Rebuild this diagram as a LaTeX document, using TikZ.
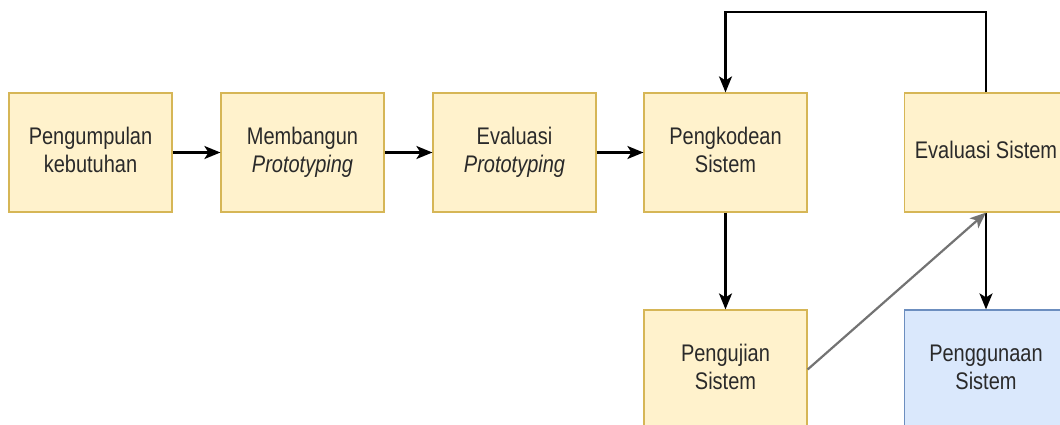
\documentclass[tikz,border=0pt]{standalone}
\usepackage{fontspec}
\setmainfont{Liberation Sans}
\usetikzlibrary{arrows.meta,calc}
\definecolor{yfill}{HTML}{FFF2CC}
\definecolor{ydraw}{HTML}{D6B656}
\definecolor{bfill}{HTML}{DAE8FC}
\definecolor{bdraw}{HTML}{6C8EBF}
\definecolor{txt}{HTML}{2A2A2A}
\newcommand{\lbl}[1]{\scalebox{1}[1.2]{\fontsize{20}{23.5}\selectfont\begin{tabular}{@{}c@{}}#1\end{tabular}}}
\tikzset{
  box/.style={draw=ydraw, fill=yfill, line width=1.2pt, minimum width=163pt, minimum height=119pt, inner sep=0pt, text=txt, align=center},
  bluebox/.style={box, draw=bdraw, fill=bfill},
  arr/.style={draw=black, line width=2.2pt, -{Stealth[length=16pt,width=13pt,inset=4pt]}},
  grayarr/.style={arr, draw=black!55}
}
\begin{document}
\begin{tikzpicture}[x=1pt,y=-1pt]
\useasboundingbox (0,0) rectangle (1060,425);
\clip (0,0) rectangle (1060,425);
\fill[white] (0,0) rectangle (1060,425);
\node[box] (pk1) at (90.5,152.5) {\lbl{Pengumpulan\\kebutuhan}};
\node[box] (mb) at (302.5,152.5) {\lbl{Membangun\\\itshape Prototyping}};
\node[box] (ep) at (514.5,152.5) {\lbl{Evaluasi\\\itshape Prototyping}};
\node[box] (pk) at (725.5,152.5) {\lbl{Pengkodean\\Sistem}};
\node[box] (es) at (986,152.5) {\lbl{Evaluasi Sistem}};
\node[box] (pu) at (725.5,369.5) {\lbl{Pengujian\\Sistem}};
\node[bluebox] (pg) at (986,369.5) {\lbl{Penggunaan\\Sistem}};
\draw[arr] (pk1) -- (mb);
\draw[arr] (mb) -- (ep);
\draw[arr] (ep) -- (pk);
\draw[arr] (pk) -- (pu);
\draw[arr] (es.south) -- (pg.north);
\draw[grayarr] (pu.east) -- (es.south);
\draw[arr] (es.north) -- ++(0,-80) -| (pk.north);
\end{tikzpicture}
\end{document}
